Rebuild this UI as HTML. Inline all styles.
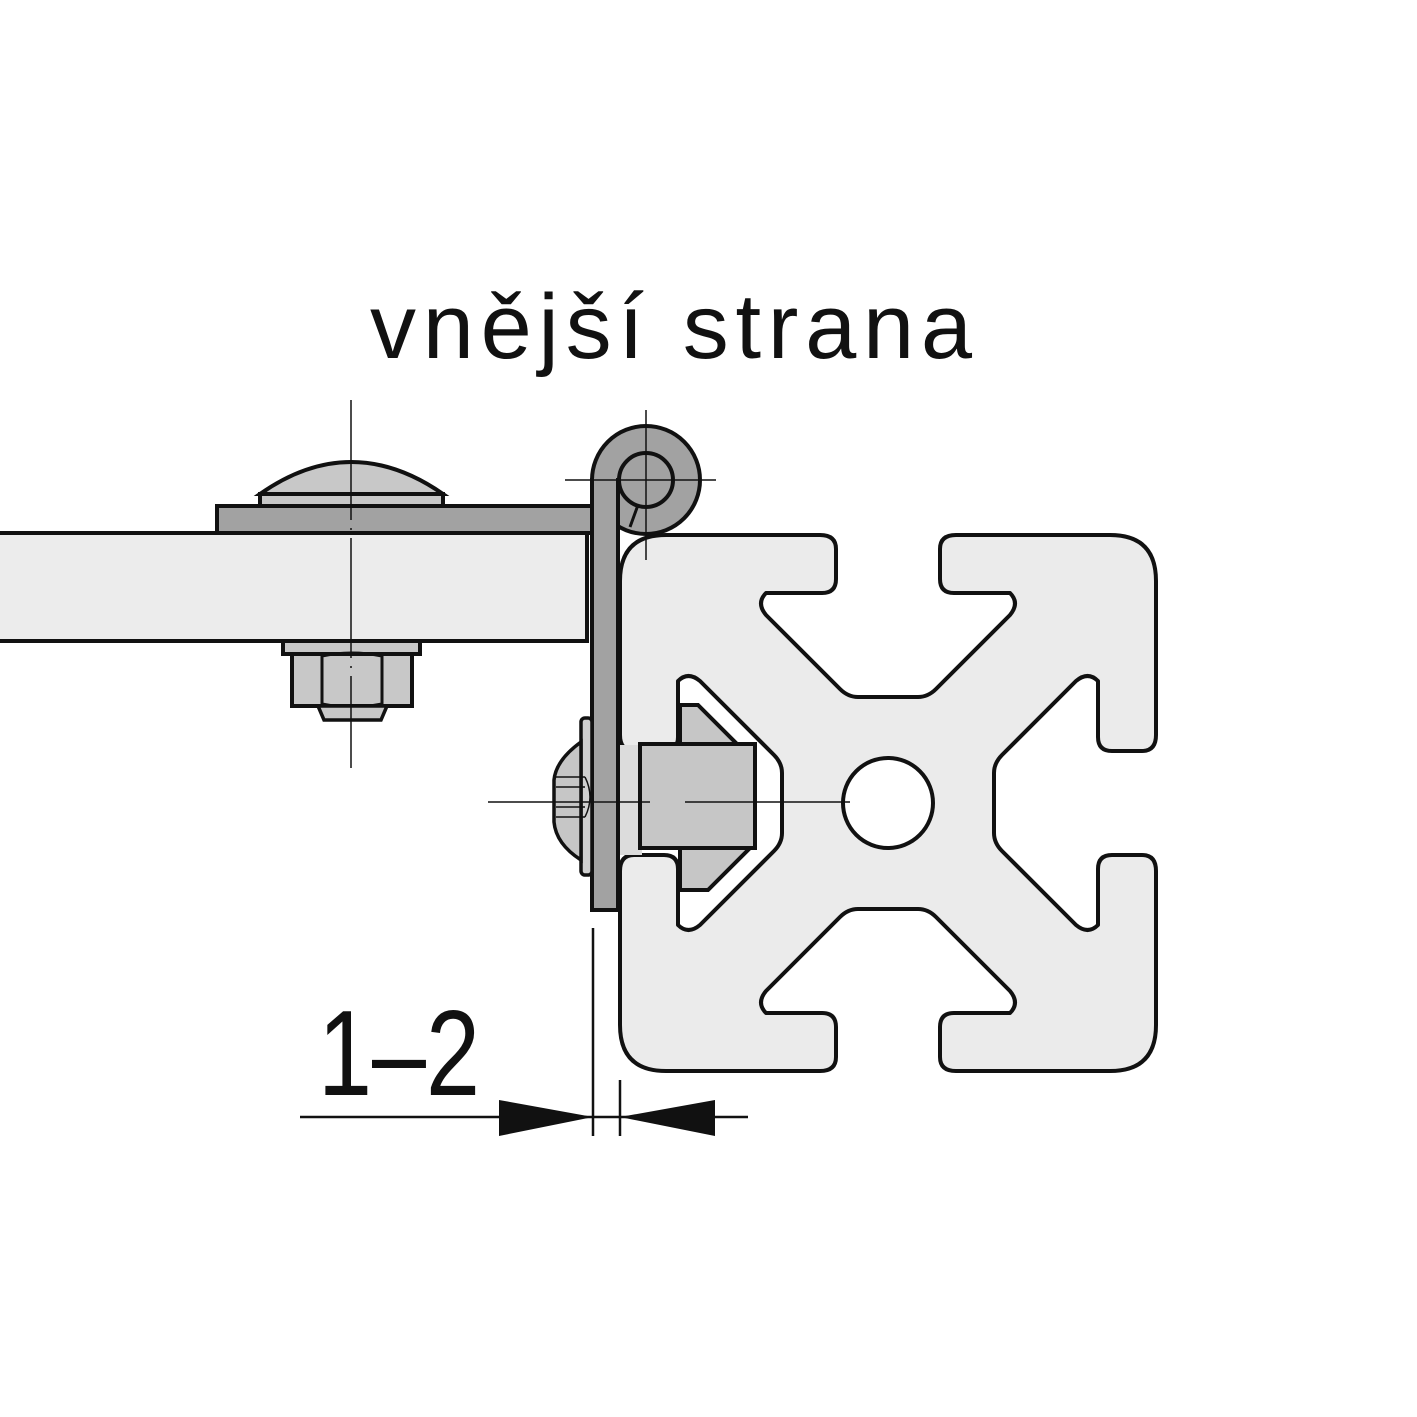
<!DOCTYPE html>
<html><head><meta charset="utf-8"><style>html,body{margin:0;padding:0;background:#fff}svg{display:block}</style></head>
<body>
<svg width="1417" height="1417" viewBox="0 0 1417 1417" xmlns="http://www.w3.org/2000/svg">
<rect width="1417" height="1417" fill="#fff"/>
<text x="370" y="358" font-family="Liberation Sans, sans-serif" font-size="92" fill="#111" textLength="602" lengthAdjust="spacing">vnější strana</text>

<!-- panel and plate -->
<rect x="-5" y="533" width="592" height="108" fill="#ececec" stroke="#111" stroke-width="4"/>
<rect x="217" y="506" width="380" height="27" fill="#a2a2a2" stroke="#111" stroke-width="4"/>
<!-- dome bolt -->
<path d="M260,494 L260,506 L443,506 L443,494 Z" fill="#c8c8c8" stroke="#111" stroke-width="4"/>
<path d="M260,494 Q351,430 443,494 Z" fill="#c8c8c8" stroke="#111" stroke-width="4"/>
<!-- nut -->
<rect x="283" y="641" width="137" height="13" fill="#c8c8c8" stroke="#111" stroke-width="4"/>
<path d="M292,654 L412,654 L412,706 L292,706 Z" fill="#c8c8c8" stroke="#111" stroke-width="4"/>
<path d="M322,656 Q351,650 382,656 L382,704 Q351,710 322,704 Z" fill="none" stroke="#111" stroke-width="3"/>
<path d="M318,706 L387,706 L381,720 L324,720 Z" fill="#c8c8c8" stroke="#111" stroke-width="3.5"/>

<!-- profile -->
<g transform="translate(888,803)">
<path fill="#ebebeb" stroke="#111" stroke-width="4" stroke-linejoin="round" d="M0,-106 L30,-106 Q40,-106 48,-114 L122,-188 Q132,-200 122,-210 L66,-210 Q52,-210 52,-224 L52,-254 Q52,-268 68,-268 L222,-268 Q268,-268 268,-222 L268,-68 Q268,-52 254,-52 L224,-52 Q210,-52 210,-66 L210,-122 Q200,-132 188,-122 L114,-48 Q106,-40 106,-30 L106,0
L106,30 Q106,40 114,48 L188,122 Q200,132 210,122 L210,66 Q210,52 224,52 L254,52 Q268,52 268,68 L268,222 Q268,268 222,268 L68,268 Q52,268 52,254 L52,224 Q52,210 66,210 L122,210 Q132,200 122,188 L48,114 Q40,106 30,106 L0,106
L-30,106 Q-40,106 -48,114 L-122,188 Q-132,200 -122,210 L-66,210 Q-52,210 -52,224 L-52,254 Q-52,268 -68,268 L-222,268 Q-268,268 -268,222 L-268,68 Q-268,52 -254,52 L-224,52 Q-210,52 -210,66 L-210,122 Q-200,132 -188,122 L-114,48 Q-106,40 -106,30 L-106,0
L-106,-30 Q-106,-40 -114,-48 L-188,-122 Q-200,-132 -210,-122 L-210,-66 Q-210,-52 -224,-52 L-254,-52 Q-268,-52 -268,-68 L-268,-222 Q-268,-268 -222,-268 L-68,-268 Q-52,-268 -52,-254 L-52,-224 Q-52,-210 -66,-210 L-122,-210 Q-132,-200 -122,-188 L-48,-114 Q-40,-106 -30,-106 Z"/>
<circle cx="0" cy="0" r="45" fill="#fff" stroke="#111" stroke-width="4"/>
</g>

<!-- T-nut -->
<path d="M680,705 L698,705 L755,762 L755,843 L708,890 L680,890 Z" fill="#c6c6c6" stroke="#111" stroke-width="4"/>
<rect x="618" y="745" width="24" height="110" fill="#dcdcdc" stroke="none"/>
<rect x="640" y="744" width="115" height="104" fill="#c6c6c6" stroke="#111" stroke-width="4"/>

<!-- hinge -->
<circle cx="646" cy="480" r="54" fill="#a2a2a2" stroke="#111" stroke-width="4"/>
<rect x="592" y="480" width="26" height="430" fill="#a2a2a2" stroke="#111" stroke-width="4"/>
<rect x="594" y="478" width="22" height="30" fill="#a2a2a2"/>
<circle cx="646" cy="480" r="27" fill="#a2a2a2" stroke="#111" stroke-width="4"/>
<line x1="638" y1="505" x2="630" y2="527" stroke="#111" stroke-width="3"/>

<!-- button head bolt -->
<rect x="581" y="718" width="11" height="157" rx="4" fill="#d0d0d0" stroke="#111" stroke-width="3.5"/>
<path d="M581,742 Q556,760 554,780 L554,822 Q556,844 581,860 Z" fill="#c6c6c6" stroke="#111" stroke-width="3.5"/>
<g stroke="#111" stroke-width="1.5">
<line x1="556" y1="777" x2="585" y2="777"/><line x1="556" y1="787" x2="585" y2="787"/>
<line x1="556" y1="807" x2="585" y2="807"/><line x1="556" y1="817" x2="585" y2="817"/>
<path d="M585,777 Q595,797 585,817" fill="none"/>
</g>

<!-- center lines -->
<g stroke="#111" stroke-width="1.5" fill="none">
<line x1="351" y1="400" x2="351" y2="768" stroke-dasharray="120,8,2,8"/>
<line x1="646" y1="410" x2="646" y2="560"/>
<line x1="565" y1="480" x2="716" y2="480"/>
<line x1="488" y1="802" x2="650" y2="802"/>
<line x1="685" y1="802" x2="850" y2="802"/>
</g>

<!-- dimension -->
<g stroke="#111" stroke-width="2.5">
<line x1="300" y1="1117" x2="748" y2="1117"/>
<line x1="593" y1="928" x2="593" y2="1136"/>
<line x1="620" y1="1080" x2="620" y2="1136"/>
</g>
<polygon points="499,1100 499,1136 593,1117" fill="#111"/>
<polygon points="715,1100 715,1136 620,1117" fill="#111"/>
<text x="318" y="1095" font-family="Liberation Sans, sans-serif" font-size="122" fill="#111" textLength="162" lengthAdjust="spacingAndGlyphs">1–2</text>
</svg>
</body></html>
